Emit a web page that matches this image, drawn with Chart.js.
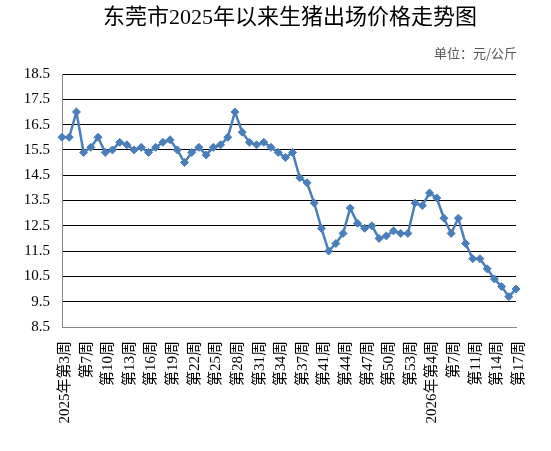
<!DOCTYPE html>
<html>
<head>
<meta charset="utf-8">
<script src="https://cdn.jsdelivr.net/npm/chart.js@4"></script>
<style>
  html, body { margin: 0; padding: 0; background: #fff; }
  #wrap { width: 551px; height: 451px; }
</style>
</head>
<body>
<div id="wrap"><canvas id="myChart" width="551" height="451"></canvas></div>
<script>
// 周次（横轴分类）
var weeks = [
    '2025年第3周', '第5周', '第6周', '第7周', '第8周', '第9周', '第10周', '第11周', '第12周', '第13周',
    '第14周', '第15周', '第16周', '第17周', '第18周', '第19周', '第20周', '第21周', '第22周', '第23周',
    '第24周', '第25周', '第26周', '第27周', '第28周', '第29周', '第30周', '第31周', '第32周', '第33周',
    '第34周', '第35周', '第36周', '第37周', '第38周', '第39周', '第41周', '第42周', '第43周', '第44周',
    '第45周', '第46周', '第47周', '第48周', '第49周', '第50周', '第51周', '第52周', '第53周', '第2周',
    '第3周', '2026年第4周', '第5周', '第6周', '第7周', '第9周', '第10周', '第11周', '第12周', '第13周',
    '第14周', '第15周', '第16周', '第17周'
];

// 生猪出场价格（元/公斤）
var prices = [
    16.0, 16.0, 17.0, 15.4, 15.6, 16.0, 15.4, 15.5, 15.8, 15.7,
    15.5, 15.6, 15.4, 15.6, 15.8, 15.9, 15.5, 15.0, 15.4, 15.6,
    15.3, 15.6, 15.7, 16.0, 17.0, 16.2, 15.8, 15.7, 15.8, 15.6,
    15.4, 15.2, 15.4, 14.4, 14.2, 13.4, 12.4, 11.5, 11.8, 12.2,
    13.2, 12.6, 12.4, 12.5, 12.0, 12.1, 12.3, 12.2, 12.2, 13.4,
    13.3, 13.8, 13.6, 12.8, 12.2, 12.8, 11.8, 11.2, 11.2, 10.8,
    10.4, 10.1, 9.7, 10.0
];

// 纵轴刻度
var yTicks = [8.5, 9.5, 10.5, 11.5, 12.5, 13.5, 14.5, 15.5, 16.5, 17.5, 18.5];

var titleText = '东莞市2025年以来生猪出场价格走势图';
var unitText = '单位：元/公斤';

var serif = '"Liberation Serif", "Noto Sans CJK SC", serif';

// 标题和单位
var titlePlugin = {
    id: 'titleText',
    afterDraw: function(chart) {
        var c = chart.ctx;
        c.save();
        c.fillStyle = '#000';
        c.font = '22px ' + serif;
        c.textAlign = 'center';
        c.textBaseline = 'middle';
        c.fillText(titleText, 290, 18);
        c.fillStyle = '#555';
        c.font = '13px "Noto Sans CJK SC", sans-serif';
        c.textAlign = 'right';
        c.fillText(unitText, 517, 53);
        c.restore();
    }
};

var ctx = document.getElementById('myChart').getContext('2d');
var myChart = new Chart(ctx, {
    type: 'line',
    data: {
        labels: weeks,
        datasets: [{
            label: '价格',
            data: prices,
            borderColor: '#4A7EBB',
            backgroundColor: '#4A7EBB',
            borderWidth: 2.5,
            pointStyle: 'rectRot',
            pointRadius: 4,
            pointBorderWidth: 1,
            tension: 0,
            fill: false
        }]
    },
    options: {
        responsive: false,
        animation: false,
        layout: { padding: { left: 0, right: 35, top: 74, bottom: 0 } },
        plugins: {
            legend: { display: false },
            tooltip: { enabled: false }
        },
        scales: {
            x: {
                offset: false,
                grid: { display: false, drawTicks: false },
                border: { display: true, color: '#868686', width: 1 },
                ticks: {
                    autoSkip: false,
                    maxRotation: 90,
                    minRotation: 90,
                    padding: 14,
                    labelOffset: 3,
                    color: '#000',
                    font: { size: 15, family: serif },
                    callback: function(v, i) {
                        return i % 3 === 0 ? weeks[i] : '';
                    }
                },
                afterFit: function(axis) { axis.height = 124; }
            },
            y: {
                min: 8.5,
                max: 18.5,
                afterBuildTicks: function(axis) {
                    axis.ticks = yTicks.map(function(v) { return { value: v }; });
                },
                grid: {
                    drawTicks: false,
                    color: function(c) { return c.tick && c.tick.value === 8.5 ? '#868686' : '#000'; },
                    lineWidth: 1
                },
                border: { display: true, color: '#868686', width: 1 },
                ticks: {
                    padding: 12,
                    color: '#000',
                    font: { size: 15, family: serif },
                    callback: function(v) { return v.toFixed(1); }
                },
                afterFit: function(axis) { axis.width = 62; }
            }
        }
    },
    plugins: [titlePlugin]
});
</script>
</body>
</html>
